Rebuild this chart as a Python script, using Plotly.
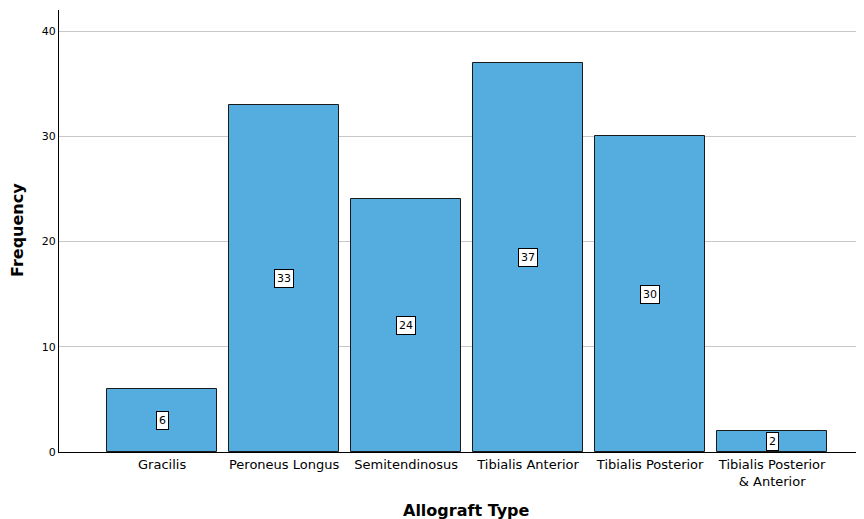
import plotly.graph_objects as go

categories = ["Gracilis", "Peroneus Longus", "Semitendinosus", "Tibialis Anterior",
              "Tibialis Posterior", "Tibialis Posterior<br>& Anterior"]
frequencies = [6, 33, 24, 37, 30, 2]
y_ticks = [0, 10, 20, 30, 40]

FONT = "DejaVu Sans"
BAR_COLOR = "#55ACDF"

# page has an 8px body margin, so the figure is sized/offset to compensate
W, H = 856, 511
L, T, B = 51, 2, 67
PW, PH = W - L, H - T - B

x_idx = list(range(len(categories)))

fig = go.Figure()
fig.add_trace(go.Bar(
    x=x_idx, y=frequencies, width=0.9,
    marker=dict(color=BAR_COLOR, line=dict(color="#1a1a1a", width=1)),
    hoverinfo="skip",
))

for i, v in zip(x_idx, frequencies):
    fig.add_annotation(x=i, y=v / 2, text=str(v), showarrow=False,
                       font=dict(family=FONT, size=11, color="black"),
                       bgcolor="white", bordercolor="black", borderwidth=1, borderpad=2)

# axis titles
fig.add_annotation(xref="paper", yref="paper", x=(458 - L) / PW, y=-(502 - (T + PH)) / PH,
                   text="<b>Allograft Type</b>", showarrow=False, yanchor="middle",
                   font=dict(family=FONT, size=16, color="black"))
fig.add_annotation(xref="paper", yref="paper", x=-(L - 9) / PW, y=(T + PH - 222) / PH,
                   text="<b>Frequency</b>", showarrow=False, textangle=-90,
                   xanchor="center", yanchor="middle",
                   font=dict(family=FONT, size=16, color="black"))

fig.update_layout(
    width=W, height=H,
    margin=dict(l=L, r=0, t=T, b=B, autoexpand=False),
    plot_bgcolor="white", paper_bgcolor="white",
    showlegend=False,
    bargap=0,
    font=dict(family=FONT, color="black"),
    xaxis=dict(
        tickmode="array", tickvals=x_idx, ticktext=categories,
        range=[-0.845, 5.753], showgrid=False, zeroline=False,
        showline=True, linecolor="black", linewidth=1, automargin=False,
        ticks="", tickfont=dict(family=FONT, size=13, color="black"),
    ),
    yaxis=dict(
        range=[0, 42], tickmode="array", tickvals=y_ticks,
        showgrid=True, gridcolor="#c8c8c8", gridwidth=1,
        zeroline=False, showline=True, linecolor="black", linewidth=1, automargin=False,
        ticks="", ticklen=0, tickfont=dict(family=FONT, size=11, color="black"),
    ),
)

fig.write_html("out.html")
